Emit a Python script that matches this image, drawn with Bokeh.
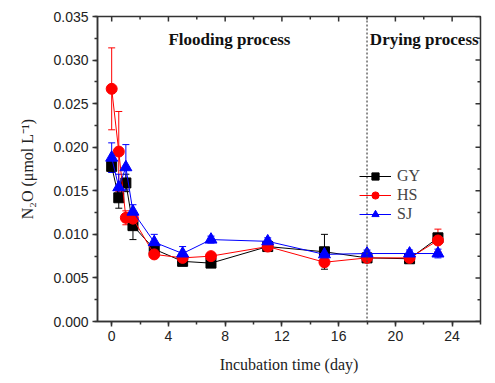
from bokeh.plotting import figure
from bokeh.models import (Range1d, FixedTicker, Span, Label, Whisker,
                          ColumnDataSource, NumeralTickFormatter, Legend, LegendItem, TeeHead)
from bokeh.embed import file_html
from bokeh.resources import INLINE

days = [0, 0.5, 1, 1.5, 3, 5, 7, 11, 15, 18, 21, 23]
gy = [0.0178, 0.0142, 0.0159, 0.0110, 0.0083, 0.0069, 0.0067, 0.0086, 0.0080, 0.0073, 0.0072, 0.0096]
gy_err = [0.0005, 0.0012, 0.0010, 0.0016, 0.0005, 0.0003, 0.0002, 0.0003, 0.0020, 0.0003, 0.0003, 0.0005]
hs = [0.0267, 0.0195, 0.0119, 0.0118, 0.0077, 0.0073, 0.0075, 0.0086, 0.0068, 0.0073, 0.0073, 0.0093]
hs_err = [0.0047, 0.0046, 0.0008, 0.0005, 0.0004, 0.0003, 0.0003, 0.0003, 0.0005, 0.0003, 0.0003, 0.0013]
sj = [0.0188, 0.0154, 0.0177, 0.0126, 0.0091, 0.0078, 0.0094, 0.0092, 0.0077, 0.0078, 0.0078, 0.0078]
sj_err = [0.0017, 0.0015, 0.0026, 0.0008, 0.0009, 0.0008, 0.0004, 0.0004, 0.0003, 0.0004, 0.0004, 0.0005]
x_ticks = [0, 4, 8, 12, 16, 20, 24]
x_minor = [0, 2, 4, 6, 8, 10, 12, 14, 16, 18, 20, 22, 24, 26]
y_ticks = [0.0, 0.005, 0.010, 0.015, 0.020, 0.025, 0.030, 0.035]
y_minor = [0.0, 0.0025, 0.005, 0.0075, 0.010, 0.0125, 0.015, 0.0175, 0.020,
           0.0225, 0.025, 0.0275, 0.030, 0.0325, 0.035]

X0, X1, Y0, Y1 = -1, 26, 0, 0.035
p = figure(width=487, height=375, output_backend="svg", toolbar_location=None,
           x_range=Range1d(X0, X1), y_range=Range1d(Y0, Y1),
           min_border_left=97, min_border_right=7, min_border_top=16, min_border_bottom=51)
p.grid.visible = False
p.outline_line_color = "#333333"
p.outline_line_width = 1.5
p.background_fill_color = "white"
p.border_fill_color = "white"

for ax in (p.xaxis[0], p.yaxis[0]):
    ax.axis_line_color = "#333333"
    ax.axis_line_width = 1.5
    ax.major_tick_line_color = "#333333"
    ax.minor_tick_line_color = "#333333"
    ax.major_tick_line_width = 1.5
    ax.minor_tick_line_width = 1.5
    ax.major_tick_out = 5
    ax.major_tick_in = 0
    ax.minor_tick_out = 3
    ax.minor_tick_in = 0
    ax.major_label_text_font = "Liberation Sans"
    ax.major_label_text_font_size = "14px"
    ax.major_label_text_color = "#222222"
    ax.axis_label_text_font = "Liberation Serif"
    ax.axis_label_text_font_style = "normal"
    ax.axis_label_text_font_size = "16px"
    ax.axis_label_text_color = "#222222"

p.xaxis.ticker = FixedTicker(ticks=x_ticks, minor_ticks=x_minor)
p.yaxis.ticker = FixedTicker(ticks=y_ticks, minor_ticks=y_minor)
p.yaxis.formatter = NumeralTickFormatter(format="0.000")
p.xaxis.axis_label = "Incubation time (day)"
p.yaxis.axis_label = "N\u2082O (\u03bcmol L\u207b\u00b9)"
p.xaxis.major_label_standoff = 4
p.yaxis.major_label_standoff = 4
p.xaxis.axis_label_standoff = 12
p.yaxis.axis_label_standoff = 14

# inward ticks on top and right frame edges
fw = 487 - 97 - 7
fh = 375 - 16 - 51
dy_maj = 5 / fh * (Y1 - Y0)
dy_min = 3 / fh * (Y1 - Y0)
dx_maj = 5 / fw * (X1 - X0)
dx_min = 3 / fw * (X1 - X0)
p.segment(x0=x_minor, y0=[Y1] * len(x_minor), x1=x_minor,
          y1=[Y1 - (dy_maj if t in x_ticks else dy_min) for t in x_minor],
          line_color="#333333", line_width=1.5)
p.segment(x0=[X1] * len(y_minor), y0=y_minor,
          x1=[X1 - (dx_maj if t in y_ticks else dx_min) for t in y_minor], y1=y_minor,
          line_color="#333333", line_width=1.5)

p.add_layout(Span(location=18, dimension="height", line_color="#444444", line_width=1.2, line_dash="2 2"))

series = [("GY", gy, gy_err, "black", "square", 10),
          ("HS", hs, hs_err, "red", "circle", 11),
          ("SJ", sj, sj_err, "blue", "triangle", 12)]
items = []
for name, vals, errs, col, mk, sz in series:
    src = ColumnDataSource(dict(x=days, y=vals,
                                lo=[v - e for v, e in zip(vals, errs)],
                                hi=[v + e for v, e in zip(vals, errs)]))
    w = Whisker(source=src, base="x", upper="hi", lower="lo", line_color=col, line_width=1,
                upper_head=TeeHead(size=7, line_color=col, line_width=1),
                lower_head=TeeHead(size=7, line_color=col, line_width=1))
    p.add_layout(w)
    ln = p.line("x", "y", source=src, line_color=col, line_width=1)
    sc = p.scatter("x", "y", source=src, marker=mk, size=sz, fill_color=col, line_color=col)
    items.append(LegendItem(label=name, renderers=[ln, sc]))

leg = Legend(items=items, location=(262, 98), border_line_color=None, background_fill_alpha=0,
             label_text_font="Liberation Serif", label_text_font_size="16px", glyph_width=32,
             glyph_height=18, label_height=18, spacing=1, label_standoff=6, padding=2)
p.add_layout(leg)

p.add_layout(Label(x=4, y=0.0324, text="Flooding process", text_font="Liberation Serif",
                   text_font_style="bold", text_font_size="17px", text_baseline="middle", text_color="#111111"))
p.add_layout(Label(x=18.2, y=0.0324, text="Drying process", text_font="Liberation Serif",
                   text_font_style="bold", text_font_size="17px", text_baseline="middle", text_color="#111111"))

open("out.html", "w").write(file_html(p, INLINE))
